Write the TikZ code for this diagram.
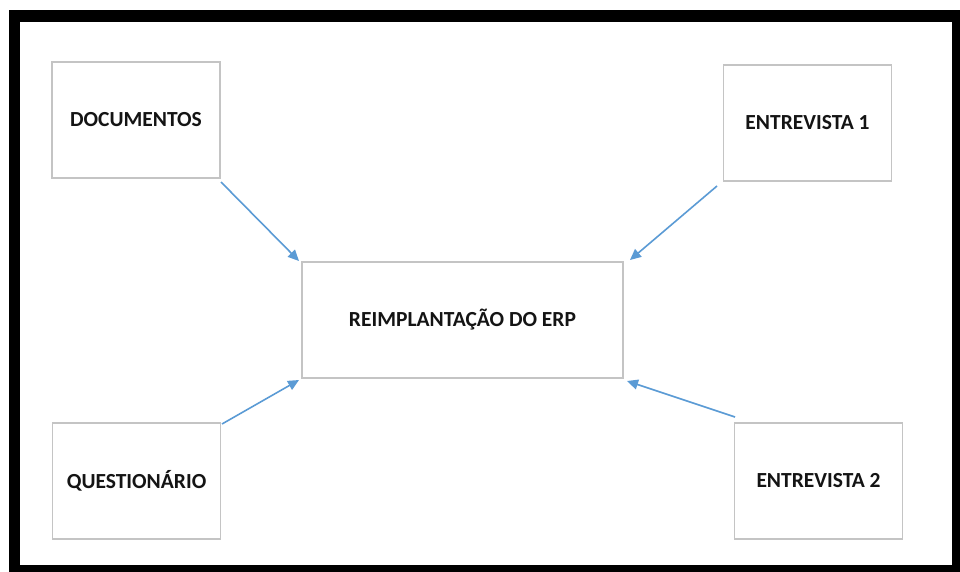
\documentclass[tikz,border=0pt]{standalone}
\usepackage{fontspec}
\setmainfont{Carlito}
\usetikzlibrary{arrows.meta}
\definecolor{boxgray}{HTML}{C4C4C4}
\definecolor{linkblue}{HTML}{5B9BD5}
\tikzset{
  srcbox/.style={draw=boxgray, line width=1.2pt, fill=white, minimum width=168pt, minimum height=116pt,
    inner sep=0pt, font=\fontsize{21.5}{24}\selectfont\bfseries, text=black!92},
  hubbox/.style={srcbox, minimum width=321pt},
  link/.style={draw=linkblue, line width=1.6pt, -{Triangle[length=11pt,width=10pt]}},
}
\begin{document}
\begin{tikzpicture}[x=1pt,y=-1pt]
  \useasboundingbox (0,0) rectangle (960,572);
  % heavy outer frame
  \fill[black] (9,10) rectangle (960,572);
  \fill[white] (20,22) rectangle (952,565);

  \node[srcbox] (doc) at (136,120) {\raisebox{-1.5pt}{DOCUMENTOS}};
  \node[srcbox] (ent1) at (807.5,123) {\raisebox{-1.5pt}{ENTREVISTA 1}};
  \node[hubbox] (erp) at (462.5,320) {\raisebox{-1.5pt}{REIMPLANTAÇÃO DO ERP}};
  \node[srcbox] (quest) at (136.5,481) {\raisebox{-1.5pt}{QUESTIONÁRIO}};
  \node[srcbox] (ent2) at (818.5,481) {\raisebox{-1.5pt}{ENTREVISTA 2}};

  \coordinate (d0) at (221,182);  \coordinate (d1) at (299,261);
  \coordinate (e0) at (717,186);  \coordinate (e1) at (630,260);
  \coordinate (q0) at (222,424);  \coordinate (q1) at (299,380);
  \coordinate (f0) at (735,417);  \coordinate (f1) at (627,381);

  \draw[link] (d0) -- (d1);
  \draw[link] (e0) -- (e1);
  \draw[link] (q0) -- (q1);
  \draw[link] (f0) -- (f1);
\end{tikzpicture}
\end{document}
